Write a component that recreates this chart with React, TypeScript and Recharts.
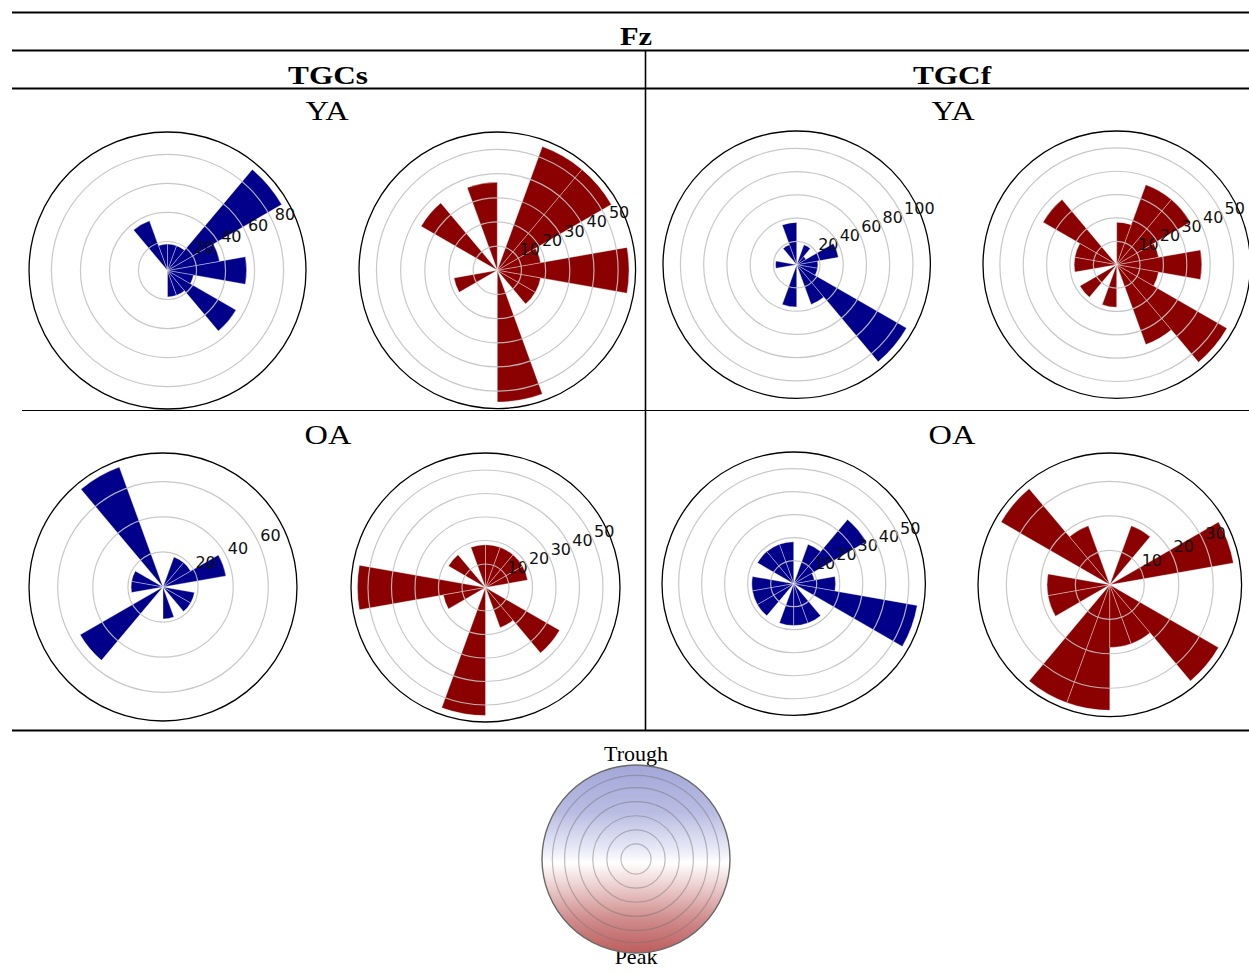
import {
  RadialBarChart,
  RadialBar,
  PolarAngleAxis,
  PolarRadiusAxis,
} from 'recharts'

// 20° phase bins, centres in degrees (counter-clockwise from 3 o'clock)
const binAngles = [0, 20, 40, 60, 80, 100, 120, 140, 160, 180, 200, 220, 240, 260, 280, 300, 320, 340]

// TGCs, young adults
const tgcsYaTrough = [54.5, 36.4, 90.9, 18.2, 18.2, 18.2, 36.4, 0, 0, 0, 0, 0, 0, 0, 18.2, 18.2, 54.5, 18.2]
const tgcsYaPeak = [54.5, 18.2, 54.5, 54.5, 0, 36.4, 0, 36.4, 0, 0, 18.2, 0, 0, 0, 54.5, 0, 18.2, 18.2]
// TGCf, young adults
const tgcfYaTrough = [18.2, 36.4, 9.1, 18.2, 0, 36.4, 18.2, 0, 0, 18.2, 0, 0, 0, 36.4, 0, 36.4, 109.1, 18.2]
const tgcfYaPeak = [36.4, 18.2, 36.4, 36.4, 18.2, 0, 0, 36.4, 18.2, 18.2, 0, 18.2, 0, 18.2, 0, 36.4, 54.5, 18.2]
// TGCs, older adults
const tgcsOaTrough = [0, 36.4, 18.2, 18.2, 0, 0, 72.7, 0, 18.2, 18.2, 0, 54.5, 0, 0, 18.2, 0, 18.2, 18.2]
const tgcsOaPeak = [0, 18.2, 18.2, 18.2, 18.2, 18.2, 0, 18.2, 0, 54.5, 18.2, 0, 0, 54.5, 0, 18.2, 36.4, 0]
// TGCf, older adults
const tgcfOaTrough = [18.2, 9.1, 36.4, 18.2, 0, 18.2, 18.2, 18.2, 0, 18.2, 18.2, 18.2, 0, 18.2, 18.2, 18.2, 0, 54.5]
const tgcfOaPeak = [0, 36.4, 0, 18.2, 0, 0, 18.2, 36.4, 0, 18.2, 18.2, 0, 36.4, 36.4, 18.2, 18.2, 36.4, 0]

// ring labels
const ticksTo80 = [20, 40, 60, 80]
const ticksTo100 = [20, 40, 60, 80, 100]
const ticksTo60 = [20, 40, 60]
const ticksTo50 = [10, 20, 30, 40, 50]
const ticksTo30 = [10, 20, 30]

// legend disc: one full-circle sector, rings as fractions of its radius
const legendDisc = [{ name: 'phase', value: 1 }]
const legendRings = [0.16, 0.31, 0.46, 0.61, 0.76, 0.89, 1]

const BLUE = '#00008b'
const RED = '#8b0000'

// where each rose sits on the page (centre + outer radius in px)
const panels = [
  { key: 'tgcs-ya-t', values: tgcsYaTrough, ticks: ticksTo80, color: BLUE, cx: 167.7, cy: 270, r: 138.5 },
  { key: 'tgcs-ya-p', values: tgcsYaPeak, ticks: ticksTo50, color: RED, cx: 497.7, cy: 270, r: 138.3 },
  { key: 'tgcf-ya-t', values: tgcfYaTrough, ticks: ticksTo100, color: BLUE, cx: 796.3, cy: 264.7, r: 133.7 },
  { key: 'tgcf-ya-p', values: tgcfYaPeak, ticks: ticksTo50, color: RED, cx: 1116.4, cy: 264.7, r: 133.7 },
  { key: 'tgcs-oa-t', values: tgcsOaTrough, ticks: ticksTo60, color: BLUE, cx: 163.3, cy: 586.7, r: 134 },
  { key: 'tgcs-oa-p', values: tgcsOaPeak, ticks: ticksTo50, color: RED, cx: 485.5, cy: 587, r: 134.5 },
  { key: 'tgcf-oa-t', values: tgcfOaTrough, ticks: ticksTo50, color: BLUE, cx: 794, cy: 583.7, r: 131.7 },
  { key: 'tgcf-oa-p', values: tgcfOaPeak, ticks: ticksTo30, color: RED, cx: 1109.3, cy: 584.5, r: 131.8 },
]

// radius-axis tick: grid ring through the tick point (drawn above the bars,
// as matplotlib does) plus the horizontal ring label
function RingTick(props: any) {
  const { x, y, payload, ccx, ccy } = props
  const rad = Math.hypot(x - ccx, y - ccy)
  return (
    <g>
      <circle cx={ccx} cy={ccy} r={rad} fill="none" stroke="#c2c2c2" strokeOpacity={0.9} strokeWidth={1.2} />
      <text x={x} y={y - 6} textAnchor="start" fontSize={16} fontFamily="DejaVu Sans" fill="#111">
        {payload.value}
      </text>
    </g>
  )
}

function LegendRing(props: any) {
  const { x, y, payload, ccx, ccy } = props
  const rad = Math.hypot(x - ccx, y - ccy)
  const edge = payload.value === 1
  return (
    <circle
      cx={ccx}
      cy={ccy}
      r={rad}
      fill="none"
      stroke={edge ? '#6a6a6a' : '#707070'}
      strokeOpacity={edge ? 1 : 0.45}
      strokeWidth={edge ? 1.4 : 1.2}
    />
  )
}

interface RoseProps {
  values: number[]
  ticks: number[]
  color: string
  cx: number
  cy: number
  r: number
}

function Rose({ values, ticks, color, cx, cy, r }: RoseProps) {
  const rows = binAngles.map((bin, i) => ({ bin, value: values[i] }))
  // matplotlib autoscale: 5% headroom above the tallest bar
  const rMax = Math.max(...values) * 1.05
  const pad = 24
  const size = 2 * r + 2 * pad
  const c = r + pad

  return (
    <div style={{ position: 'absolute', left: cx - c, top: cy - c, width: size, height: size }}>
      {/* recharts places the first band one band-width before startAngle,
          so start at +10° to get the 0° bin centred on 3 o'clock */}
      <RadialBarChart
        width={size}
        height={size}
        cx={c}
        cy={c}
        innerRadius={0}
        outerRadius={r}
        data={rows}
        layout="centric"
        startAngle={10}
        endAngle={370}
        barCategoryGap={0}
        barGap={0}
        margin={{ top: 0, right: 0, bottom: 0, left: 0 }}
      >
        <PolarAngleAxis
          type="category"
          dataKey="bin"
          tick={false}
          tickLine={false}
          axisLineType="circle"
          axisLine={{ stroke: '#000', strokeWidth: 1.3 }}
        />
        <RadialBar
          dataKey="value"
          fill={color}
          stroke="#ffffff"
          strokeWidth={0.7}
          strokeOpacity={0.5}
          isAnimationActive={false}
        />
        <PolarRadiusAxis
          type="number"
          domain={[0, rMax]}
          allowDataOverflow
          ticks={ticks}
          angle={22.5}
          axisLine={false}
          tickLine={false}
          tick={(p: any) => <RingTick {...p} ccx={c} ccy={c} />}
        />
      </RadialBarChart>
    </div>
  )
}

function Label({ x, y, text, size, bold, sx = 1 }: { x: number; y: number; text: string; size: number; bold?: boolean; sx?: number }) {
  return (
    <text
      transform={`translate(${x} ${y}) scale(${sx} 1)`}
      textAnchor="middle"
      fontFamily="'Liberation Serif', 'Times New Roman', serif"
      fontWeight={bold ? 700 : 400}
      fontSize={size}
      fill="#000"
    >
      {text}
    </text>
  )
}

function PhaseLegend() {
  return (
    <div style={{ position: 'absolute', left: 526, top: 749, width: 220, height: 220 }}>
      <RadialBarChart
        width={220}
        height={220}
        cx={110}
        cy={110}
        innerRadius={0}
        outerRadius={94}
        data={legendDisc}
        layout="centric"
        startAngle={90}
        endAngle={450}
        barCategoryGap={0}
        margin={{ top: 0, right: 0, bottom: 0, left: 0 }}
      >
        <defs>
          <linearGradient id="troughPeak" x1="0" y1="0" x2="0" y2="1">
            <stop offset="0%" stopColor="#a3a7d8" />
            <stop offset="25%" stopColor="#b9bce2" />
            <stop offset="45%" stopColor="#e9eaf7" />
            <stop offset="52%" stopColor="#ffffff" />
            <stop offset="62%" stopColor="#f0d8d8" />
            <stop offset="82%" stopColor="#d08c8c" />
            <stop offset="100%" stopColor="#bd5d5d" />
          </linearGradient>
        </defs>
        <PolarAngleAxis type="category" dataKey="name" tick={false} tickLine={false} axisLine={false} />
        <RadialBar dataKey="value" fill="url(#troughPeak)" stroke="none" isAnimationActive={false} />
        <PolarRadiusAxis
          type="number"
          domain={[0, 1]}
          ticks={legendRings}
          angle={90}
          axisLine={false}
          tickLine={false}
          tick={(p: any) => <LegendRing {...p} ccx={110} ccy={110} />}
        />
      </RadialBarChart>
    </div>
  )
}

export default function App() {
  return (
    <div
      style={{
        position: 'absolute',
        left: 0,
        top: 0,
        width: 1249,
        height: 974,
        overflow: 'hidden',
        background: '#fff',
      }}
    >
      <svg width={1249} height={974} style={{ position: 'absolute', left: 0, top: 0 }}>
        <line x1={12} x2={1249} y1={12.5} y2={12.5} stroke="#000" strokeWidth={2} />
        <line x1={12} x2={1249} y1={50.5} y2={50.5} stroke="#000" strokeWidth={2} />
        <line x1={12} x2={1249} y1={88.5} y2={88.5} stroke="#000" strokeWidth={1.8} />
        <line x1={22} x2={1249} y1={410.5} y2={410.5} stroke="#000" strokeWidth={1.1} />
        <line x1={12} x2={1249} y1={730.5} y2={730.5} stroke="#000" strokeWidth={2} />
        <line x1={645.5} x2={645.5} y1={50} y2={731} stroke="#000" strokeWidth={1.6} />

        <Label x={636} y={45} text="Fz" size={25} bold sx={1.22} />
        <Label x={328} y={83.5} text="TGCs" size={25} bold sx={1.25} />
        <Label x={952} y={83.5} text="TGCf" size={25} bold sx={1.25} />
        <Label x={327} y={120} text="YA" size={27} sx={1.2} />
        <Label x={953} y={120} text="YA" size={27} sx={1.2} />
        <Label x={328} y={444} text="OA" size={27} sx={1.2} />
        <Label x={952} y={444} text="OA" size={27} sx={1.2} />
        <Label x={636} y={761} text="Trough" size={22} />
        <Label x={636} y={964} text="Peak" size={22} />
      </svg>

      {panels.map(p => (
        <Rose key={p.key} values={p.values} ticks={p.ticks} color={p.color} cx={p.cx} cy={p.cy} r={p.r} />
      ))}

      <PhaseLegend />
    </div>
  )
}
